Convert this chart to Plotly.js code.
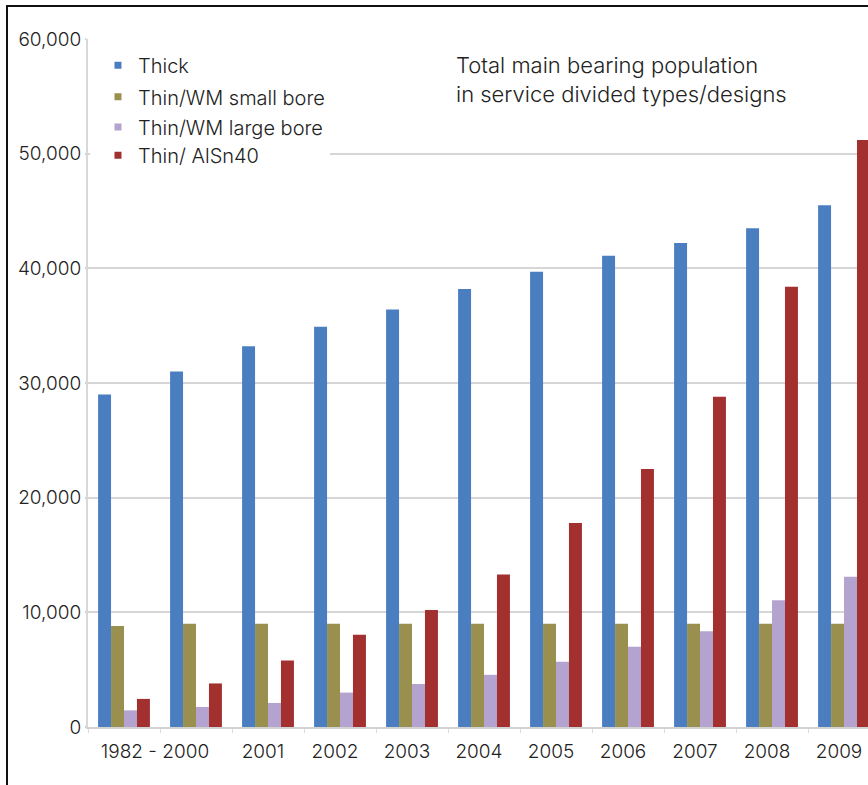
<!DOCTYPE html>
<html>
<head>
<meta charset="utf-8">
<script src="https://cdn.plot.ly/plotly-3.0.1.min.js"></script>
<style>
html, body { margin: 0; padding: 0; background: #fff; }
#wrap { position: relative; width: 868px; height: 785px; overflow: hidden; }
#chart { width: 868px; height: 785px; }
#frame { position: absolute; left: 6px; top: 5px; width: 900px; height: 800px;
         border-top: 2px solid #111; border-left: 2px solid #111; pointer-events: none; }
</style>
</head>
<body>
<div id="wrap"><div id="chart"></div><div id="frame"></div></div>
<script>
// ---- data ----
const categories = ['1982', '2000', '2001', '2002', '2003', '2004', '2005', '2006', '2007', '2008', '2009'];
const tickLabels = ['1982 - 2000', '2001', '2002', '2003', '2004', '2005', '2006', '2007', '2008', '2009'];
const seriesNames = ['Thick', 'Thin/WM small bore', 'Thin/WM large bore', 'Thin/ AlSn40'];
const thick     = [29000, 31000, 33200, 34900, 36400, 38200, 39700, 41100, 42200, 43500, 45500];
const smallBore = [8800, 9000, 9000, 9000, 9000, 9000, 9000, 9000, 9000, 9000, 9000];
const largeBore = [1450, 1750, 2100, 3000, 3750, 4550, 5700, 7000, 8350, 11050, 13100];
const alsn40    = [2450, 3800, 5800, 8050, 10200, 13300, 17800, 22500, 28800, 38400, 51200];
const titleText = 'Total main bearing population<br>in service divided types/designs';

// ---- styling ----
const colors = ['#4a7ec0', '#998f4f', '#b4a3cf', '#a1302f'];
const values = [thick, smallBore, largeBore, alsn40];
const FONT = 'Inter, "Liberation Sans", Arial, sans-serif';
const TXT = '#222222';

const xPos = categories.map((c, i) => i);
// first label spans the first two groups, the rest sit under their own group
const tickVals = [(xPos[0] + xPos[1]) / 2].concat(xPos.slice(2));

const traces = [];
values.forEach((v, k) => {
  traces.push({
    type: 'bar', x: xPos, y: v, name: seriesNames[k], customdata: categories,
    marker: { color: colors[k], line: { width: 0 } },
    showlegend: false, legendgroup: 'g' + k,
    hovertemplate: '%{customdata}: %{y:,}<extra>' + seriesNames[k] + '</extra>'
  });
});
const legendIds = ['legend', 'legend2', 'legend3', 'legend4'];
seriesNames.forEach((n, k) => {
  traces.push({
    type: 'scatter', mode: 'markers', x: [null], y: [null], name: n,
    legend: legendIds[k], legendgroup: 'g' + k, showlegend: true,
    marker: { symbol: 'square', size: 7, color: colors[k] }, hoverinfo: 'skip'
  });
});

const legendY = [0.962, 0.916, 0.872, 0.831];
const layout = {
  width: 868, height: 785,
  margin: { l: 88, r: 0, t: 39, b: 58, pad: 0 },
  paper_bgcolor: '#ffffff', plot_bgcolor: '#ffffff',
  font: { family: FONT, size: 19, color: TXT, weight: 300 },
  barmode: 'group', bargap: 0.28, bargroupgap: 0,
  title: {
    text: titleText, font: { family: FONT, size: 22, color: TXT, weight: 300 },
    xref: 'paper', x: 0.4718, xanchor: 'left',
    yref: 'container', y: 0.907, yanchor: 'top'
  },
  xaxis: {
    type: 'linear', range: [-0.5, 10.333], fixedrange: true,
    tickmode: 'array', tickvals: tickVals, ticktext: tickLabels,
    ticks: '', showgrid: false, zeroline: false,
    showline: true, linecolor: '#d2d2d2', linewidth: 2,
    ticklabelshift: -5, ticklabelstandoff: 6,
    tickfont: { family: FONT, size: 19, color: TXT, weight: 300 },
    minor: { tickmode: 'linear', tick0: 0.5, dtick: 1, ticks: 'outside', ticklen: 4,
             tickcolor: '#dddddd', tickwidth: 1, showgrid: false }
  },
  yaxis: {
    range: [0, 60000], dtick: 10000, tick0: 0, tickformat: ',d', fixedrange: true,
    showgrid: true, gridcolor: '#d6d6d6', gridwidth: 2, zeroline: false,
    showline: true, linecolor: '#d8d8d8', linewidth: 2,
    ticks: 'outside', ticklen: 1, tickcolor: '#d0d0d0', tickwidth: 2,
    tickfont: { family: FONT, size: 19, color: TXT, weight: 300 }
  },
  // white legend panel that hides the gridline behind the legend
  shapes: [{
    type: 'rect', layer: 'between', xref: 'x', yref: 'y',
    x0: -0.47, x1: 2.86, y0: 48700, y1: 51200,
    fillcolor: '#ffffff', line: { width: 0 }
  }],
  showlegend: true
};
legendIds.forEach((id, k) => {
  layout[id] = {
    x: 0.0128, xanchor: 'left', y: legendY[k], yanchor: 'middle',
    bgcolor: 'rgba(0,0,0,0)', borderwidth: 0,
    font: { family: FONT, size: 20, color: TXT, weight: 300 }
  };
});

Plotly.newPlot('chart', traces, layout, { displayModeBar: false, staticPlot: true });
</script>
</body>
</html>
